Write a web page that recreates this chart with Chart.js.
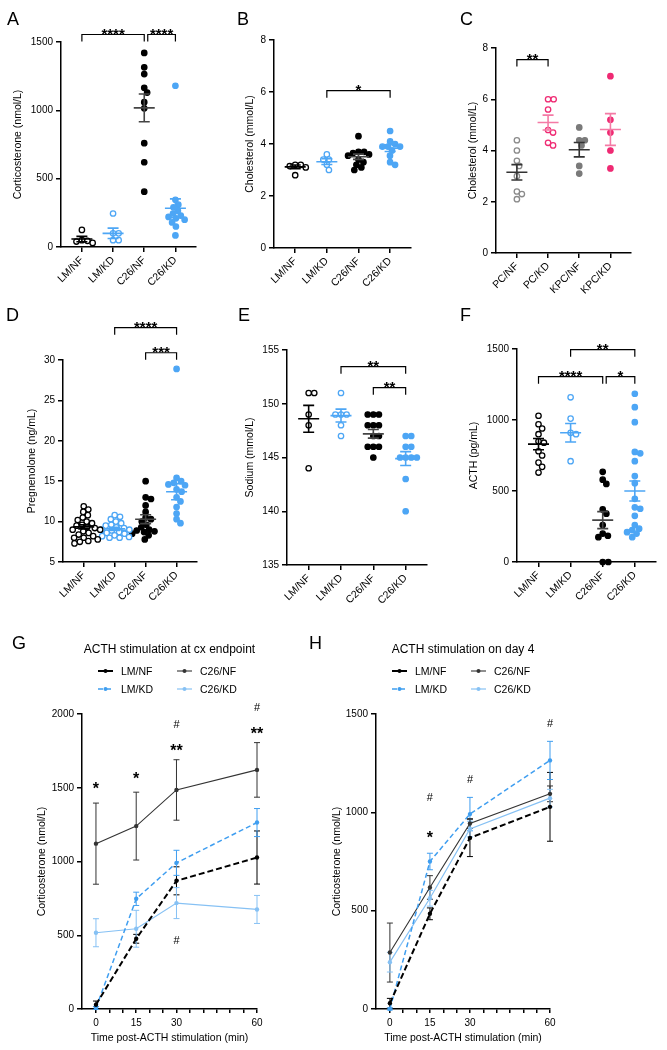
<!DOCTYPE html>
<html>
<head>
<meta charset="utf-8">
<script src="https://cdn.jsdelivr.net/npm/chart.js@4.4.1/dist/chart.umd.min.js"></script>
<style>
  body { margin: 0; background: #fff; width: 667px; height: 1050px; position: relative; overflow: hidden; }
  canvas { position: absolute; }
  .lbl { position: absolute; font: 18px "Liberation Sans", Arial, sans-serif; line-height: 18px; color: #000; }
</style>
</head>
<body>
<canvas id="cA" width="222" height="300" style="left:0;top:0"></canvas>
<canvas id="cB" width="222" height="300" style="left:222px;top:0"></canvas>
<canvas id="cC" width="223" height="300" style="left:444px;top:0"></canvas>
<canvas id="cD" width="222" height="320" style="left:0;top:290px"></canvas>
<canvas id="cE" width="222" height="320" style="left:222px;top:290px"></canvas>
<canvas id="cF" width="223" height="320" style="left:444px;top:290px"></canvas>
<canvas id="cG" width="330" height="450" style="left:0;top:600px"></canvas>
<canvas id="cH" width="337" height="450" style="left:330px;top:600px"></canvas>
<div class="lbl" style="left:7px;top:10px">A</div>
<div class="lbl" style="left:237px;top:10px">B</div>
<div class="lbl" style="left:460px;top:10px">C</div>
<div class="lbl" style="left:6px;top:306px">D</div>
<div class="lbl" style="left:238px;top:306px">E</div>
<div class="lbl" style="left:460px;top:306px">F</div>
<div class="lbl" style="left:12px;top:634px">G</div>
<div class="lbl" style="left:309px;top:634px">H</div>
<script>
// groups
const groupsLM = ['LM/NF', 'LM/KD', 'C26/NF', 'C26/KD'];
const groupsPC = ['PC/NF', 'PC/KD', 'KPC/NF', 'KPC/KD'];

// A - corticosterone (nmol/L)
const aLMNF = [125, 50, 45, 40, 30];
const aLMKD = [245, 100, 100, 50, 50];
const aC26NF = [1420, 1315, 1265, 1165, 1130, 1060, 1015, 760, 620, 405];
const aC26KD = [1180, 345, 310, 290, 265, 245, 230, 220, 210, 200, 180, 150, 85];
const aMean = [58, 100, 1018, 284];
const aSem = [20, 38, 102, 68];

// B - cholesterol (mmol/L)
const bLMNF = [3.2, 3.2, 3.15, 3.1, 2.8];
const bLMKD = [3.6, 3.4, 3.4, 3.2, 3.0];
const bC26NF = [4.3, 3.7, 3.7, 3.65, 3.6, 3.55, 3.4, 3.3, 3.2, 3.1, 3.0];
const bC26KD = [4.5, 4.1, 4.0, 3.9, 3.9, 3.9, 3.75, 3.55, 3.3, 3.2];
const bMean = [3.12, 3.32, 3.51, 3.84];
const bSem = [0.07, 0.11, 0.1, 0.13];

// C - cholesterol (mmol/L), PC / KPC
const cPCNF = [4.4, 4.0, 3.6, 3.4, 3.0, 2.4, 2.3, 2.1];
const cPCKD = [6.0, 6.0, 5.6, 4.8, 4.7, 4.3, 4.2];
const cKPCNF = [4.9, 4.4, 4.4, 4.2, 3.4, 3.1];
const cKPCKD = [6.9, 5.2, 4.7, 4.0, 3.3];
const cMean = [3.15, 5.09, 4.03, 4.82];
const cSem = [0.3, 0.29, 0.28, 0.62];

// D - pregnenolone (ng/mL)
const dLMNF = [11.9, 11.5, 11.2, 10.8, 10.5, 10.2, 10.0, 9.8, 9.6, 9.5, 9.3, 9.2, 9.0, 9.0, 8.8, 8.6, 8.4, 8.2, 8.0, 8.0, 7.8, 7.6, 7.5, 7.3];
const dLMKD = [10.8, 10.6, 10.3, 10.0, 9.8, 9.6, 9.5, 9.3, 9.2, 9.0, 9.0, 8.9, 8.7, 8.6, 8.5, 8.3, 8.2, 8.1, 8.0, 8.0];
const dC26NF = [15.0, 13.0, 12.8, 12.0, 11.2, 10.5, 10.3, 10.0, 9.6, 9.3, 9.0, 8.9, 8.8, 8.7, 8.5, 8.3, 7.8];
const dC26KD = [28.9, 15.4, 15.0, 14.8, 14.6, 14.5, 14.0, 13.7, 13.0, 12.5, 11.8, 11.0, 10.3, 9.8];
const dMean = [9.35, 9.1, 10.3, 13.7];
const dSem = [0.25, 0.2, 0.55, 1.0];

// E - sodium (mmol/L)
const eLMNF = [151, 151, 149, 148, 144];
const eLMKD = [151, 149, 149, 149, 148, 147];
const eC26NF = [149, 149, 149, 148, 148, 148, 147, 147, 146, 146, 146, 145];
const eC26KD = [147, 147, 146, 146, 145, 145, 145, 145, 143, 140];
const eMean = [148.6, 148.9, 147.2, 144.9];
const eSem = [1.25, 0.6, 0.4, 0.65];

// F - ACTH (pg/mL)
const fLMNF = [1030, 970, 940, 900, 850, 840, 780, 750, 700, 670, 630];
const fLMKD = [1160, 1010, 910, 900, 710];
const fC26NF = [635, 580, 550, 370, 340, 260, 200, 185, 175, 0, 0];
const fC26KD = [1185, 1090, 985, 775, 765, 710, 605, 555, 445, 385, 375, 325, 260, 235, 225, 210, 200, 175];
const fMean = [830, 910, 295, 500];
const fSem = [40, 65, 60, 70];

// significance brackets: [from group, to group, level, text]
const aSig = [[1, 3, 1555, '****'], [3, 4, 1555, '****']];
const bSig = [[2, 4, 6.05, '*']];
const cSig = [[1, 2, 7.55, '**']];
const dSig = [[2, 4, 34.0, '****'], [3, 4, 30.9, '***']];
const eSig = [[2, 4, 153.45, '**'], [3, 4, 151.5, '**']];
const fSig = [[2, 4, 1495, '**'], [1, 3, 1305, '****'], [3, 4, 1305, '*']];

// G / H - ACTH stimulation time course
const timePoints = [0, 15, 30, 60];
const timeTickLabels = [0, 15, 30, 60];
const seriesNames = ['LM/NF', 'LM/KD', 'C26/NF', 'C26/KD'];

const gLMNF = [29, 476, 869, 1027],  gLMNFsem = [25, 30, 95, 180];
const gLMKD = [7, 747, 991, 1264],   gLMKDsem = [10, 45, 85, 95];
const gC26NF = [1121, 1240, 1485, 1621], gC26NFsem = [275, 230, 205, 185];
const gC26KD = [517, 544, 718, 675], gC26KDsem = [95, 125, 105, 95];
const gMarks = [['*', 0, 1520], ['*', 15, 1590], ['**', 30, 1780], ['#', 30, 1935], ['**', 60, 1895], ['#', 60, 2045], ['#', 30, 465]];

const hLMNF = [29, 484, 870, 1028],  hLMNFsem = [25, 30, 95, 175];
const hLMKD = [0, 750, 991, 1264],   hLMKDsem = [5, 42, 85, 97];
const hC26NF = [287, 618, 943, 1094], hC26NFsem = [150, 60, 25, 40];
const hC26KD = [238, 563, 915, 1072], hC26KDsem = [50, 40, 40, 45];
const hMarks = [['#', 15, 1076], ['*', 15, 889], ['#', 30, 1169], ['#', 60, 1454]];

const FONT = '"Liberation Sans", Arial, sans-serif';
Chart.defaults.font.family = FONT;
Chart.defaults.color = '#000';

const BLUE = '#4da6f5';
const PINK = '#ef2a73';
const plain = v => String(v);

// spread points of a group sideways (beeswarm), allowing a little overlap
const swarm = {
  id: 'swarm',
  afterDatasetsUpdate(chart) {
    chart.data.datasets.forEach((ds, di) => {
      const pts = chart.getDatasetMeta(di).data;
      const d = 5.6;
      const placed = [];
      const order = pts.map((p, i) => i).sort((a, b) => pts[a].y - pts[b].y);
      order.forEach(i => {
        const p = pts[i];
        const cands = [0];
        placed.forEach(q => {
          const dy = Math.abs(q.y - p.y);
          if (dy < d) {
            const dx = Math.sqrt(d * d - dy * dy);
            cands.push(q.dx + dx, q.dx - dx);
          }
        });
        cands.sort((a, b) => Math.abs(a) - Math.abs(b));
        const dx = cands.find(c => placed.every(q => (q.dx - c) ** 2 + (q.y - p.y) ** 2 >= d * d - 0.01)) || 0;
        placed.push({ dx, y: p.y });
        p.x += dx;
      });
    });
  }
};

const meanSem = {
  id: 'meanSem',
  afterDatasetsDraw(chart, args, o) {
    const { ctx, scales: { x, y } } = chart;
    ctx.save();
    ctx.lineWidth = 1.6;
    o.mean.forEach((m, i) => {
      const cx = x.getPixelForValue(i + 1);
      const ym = y.getPixelForValue(m);
      const y1 = y.getPixelForValue(m + o.sem[i]);
      const y2 = y.getPixelForValue(m - o.sem[i]);
      ctx.strokeStyle = o.colors[i];
      ctx.beginPath();
      ctx.moveTo(cx - 10.5, ym); ctx.lineTo(cx + 10.5, ym);
      ctx.moveTo(cx, y1); ctx.lineTo(cx, y2);
      ctx.moveTo(cx - 5.5, y1); ctx.lineTo(cx + 5.5, y1);
      ctx.moveTo(cx - 5.5, y2); ctx.lineTo(cx + 5.5, y2);
      ctx.stroke();
    });
    ctx.restore();
  }
};

const brackets = {
  id: 'brackets',
  afterDraw(chart, args, o) {
    const { ctx, scales: { x, y } } = chart;
    ctx.save();
    ctx.strokeStyle = '#000';
    ctx.fillStyle = '#000';
    ctx.lineWidth = 1.2;
    ctx.font = 'bold 15px ' + FONT;
    ctx.textAlign = 'center';
    ctx.textBaseline = 'alphabetic';
    o.list.forEach(([a, b, level, text]) => {
      let xa = x.getPixelForValue(a);
      const xb = x.getPixelForValue(b);
      if (o.list.some(s => s[2] === level && s[1] === a)) xa += 3.5;
      const yy = y.getPixelForValue(level);
      ctx.beginPath();
      ctx.moveTo(xa, yy + 7); ctx.lineTo(xa, yy); ctx.lineTo(xb, yy); ctx.lineTo(xb, yy + 7);
      ctx.stroke();
      ctx.fillText(text, (xa + xb) / 2, yy - 2 + 0.42 * 15);
    });
    ctx.restore();
  }
};

const axisGrid = { drawOnChartArea: false, drawTicks: true, tickLength: 5, color: '#000', lineWidth: 1.5 };
const axisBorder = { color: '#000', width: 1.5 };

function dotPanel(id, o) {
  const cv = document.getElementById(id);
  const W = cv.width, H = cv.height;
  const datasets = o.values.map((vals, i) => ({
    label: o.groups[i],
    data: vals.map(v => ({ x: i + 1, y: v })),
    pointRadius: 2.7,
    pointBorderWidth: 1.3,
    pointBackgroundColor: o.open[i] ? '#fff' : o.colors[i],
    pointBorderColor: o.colors[i],
    showLine: false,
    clip: false
  }));
  return new Chart(cv, {
    type: 'scatter',
    data: { datasets },
    options: {
      responsive: false,
      animation: false,
      layout: { padding: { left: 0, top: o.area[2], right: W - o.area[1], bottom: 0 } },
      plugins: {
        legend: { display: false },
        tooltip: { enabled: false },
        meanSem: { mean: o.mean, sem: o.sem, colors: o.barColors },
        brackets: { list: o.sig }
      },
      scales: {
        x: {
          type: 'linear', min: 0.33, max: 4.66,
          afterBuildTicks: s => { s.ticks = o.groups.map((g, i) => ({ value: i + 1 })); },
          afterFit: s => { s.height = H - o.area[3]; },
          ticks: { callback: v => o.groups[v - 1], minRotation: 45, maxRotation: 45, autoSkip: false, font: { size: 10.5 }, padding: 2 },
          grid: axisGrid, border: axisBorder
        },
        y: {
          min: o.range[0], max: o.range[1],
          afterFit: s => { s.width = o.area[0]; },
          ticks: { stepSize: o.range[2], callback: plain, font: { size: 10 }, padding: 3 },
          title: { display: true, text: o.title, font: { size: 10.5 }, padding: { top: o.titleX - 6.3, bottom: 0 } },
          grid: axisGrid, border: axisBorder
        }
      }
    },
    plugins: [swarm, meanSem, brackets]
  });
}

const openLM = [true, true, false, false];
const colLM = ['#000', BLUE, '#000', BLUE];
const barLM = ['#000', BLUE, '#444', BLUE];

dotPanel('cA', { groups: groupsLM, values: [aLMNF, aLMKD, aC26NF, aC26KD], mean: aMean, sem: aSem, sig: aSig,
  open: openLM, colors: colLM, barColors: barLM, area: [61, 196, 42, 247], range: [0, 1500, 500], title: 'Corticosterone (nmol/L)', titleX: 18 });
dotPanel('cB', { groups: groupsLM, values: [bLMNF, bLMKD, bC26NF, bC26KD], mean: bMean, sem: bSem, sig: bSig,
  open: openLM, colors: colLM, barColors: barLM, area: [52, 189, 40, 248], range: [0, 8, 2], title: 'Cholesterol (mmol/L)', titleX: 28 });
dotPanel('cC', { groups: groupsPC, values: [cPCNF, cPCKD, cKPCNF, cKPCKD], mean: cMean, sem: cSem, sig: cSig,
  open: openLM, colors: ['#8a8a8a', PINK, '#7a7a7a', PINK], barColors: ['#333', '#f47aa5', '#333', '#f47aa5'], area: [52, 187, 48, 253], range: [0, 8, 2], title: 'Cholesterol (mmol/L)', titleX: 29 });
dotPanel('cD', { groups: groupsLM, values: [dLMNF, dLMKD, dC26NF, dC26KD], mean: dMean, sem: dSem, sig: dSig,
  open: openLM, colors: colLM, barColors: barLM, area: [63, 197, 70, 272], range: [5, 30, 5], title: 'Pregnenolone (ng/mL)', titleX: 32 });
dotPanel('cE', { groups: groupsLM, values: [eLMNF, eLMKD, eC26NF, eC26KD], mean: eMean, sem: eSem, sig: eSig,
  open: openLM, colors: colLM, barColors: barLM, area: [65, 205, 60, 275], range: [135, 155, 5], title: 'Sodium (mmol/L)', titleX: 28 });
dotPanel('cF', { groups: groupsLM, values: [fLMNF, fLMKD, fC26NF, fC26KD], mean: fMean, sem: fSem, sig: fSig,
  open: openLM, colors: colLM, barColors: barLM, area: [73, 212, 59, 272], range: [0, 1500, 500], title: 'ACTH (pg/mL)', titleX: 30 });

// error bars, annotations, title and legend for the time-course panels
const errorBars = {
  id: 'errorBars',
  beforeDatasetsDraw(chart) {
    const { ctx, scales: { y } } = chart;
    ctx.save();
    ctx.lineWidth = 1;
    chart.data.datasets.forEach((ds, di) => {
      const pts = chart.getDatasetMeta(di).data;
      ctx.strokeStyle = ds.borderColor;
      pts.forEach((p, j) => {
        const m = ds.data[j].y, s = ds.sem[j];
        const y1 = y.getPixelForValue(m + s), y2 = y.getPixelForValue(m - s);
        ctx.beginPath();
        ctx.moveTo(p.x, y1); ctx.lineTo(p.x, y2);
        ctx.moveTo(p.x - 3, y1); ctx.lineTo(p.x + 3, y1);
        ctx.moveTo(p.x - 3, y2); ctx.lineTo(p.x + 3, y2);
        ctx.stroke();
      });
    });
    ctx.restore();
  }
};

const decor = {
  id: 'decor',
  afterDraw(chart, args, o) {
    const { ctx, chartArea: ca, scales: { x, y } } = chart;
    ctx.save();
    ctx.fillStyle = '#000';
    ctx.textAlign = 'center';
    ctx.textBaseline = 'alphabetic';
    ctx.font = '12px ' + FONT;
    ctx.fillText(o.title, (ca.left + ca.right) / 2, ca.top - 61);
    // marks
    o.marks.forEach(([t, tx, ty]) => {
      const px = x.getPixelForValue(tx), py = y.getPixelForValue(ty);
      if (t === '#') {
        ctx.font = '11px ' + FONT;
        ctx.fillText(t, px, py + 0.36 * 11);
      } else {
        ctx.font = 'bold 16px ' + FONT;
        ctx.fillText(t, px, py + 0.58 * 16);
      }
    });
    // legend
    ctx.textAlign = 'left';
    ctx.font = '10.5px ' + FONT;
    chart.data.datasets.forEach((ds, i) => {
      const col = Math.floor(i / 2), row = i % 2;
      const sx = ca.left + 16 + col * 79;
      const sy = ca.top - 43 + row * 18;
      ctx.strokeStyle = ds.borderColor;
      ctx.lineWidth = ds.borderWidth;
      ctx.setLineDash(ds.borderDash);
      ctx.beginPath(); ctx.moveTo(sx, sy); ctx.lineTo(sx + 15, sy); ctx.stroke();
      ctx.setLineDash([]);
      ctx.fillStyle = ds.borderColor;
      ctx.beginPath(); ctx.arc(sx + 7.5, sy, 2, 0, Math.PI * 2); ctx.fill();
      ctx.fillStyle = '#000';
      ctx.fillText(ds.label, sx + 23, sy + 3.8);
    });
    ctx.restore();
  }
};

const lineStyles = [
  { color: '#000', dash: [6, 3], width: 2 },
  { color: '#3f9ef0', dash: [5, 3], width: 1.5 },
  { color: '#333', dash: [], width: 1.1 },
  { color: '#86c1f4', dash: [], width: 1.2 }
];

function timePanel(id, o) {
  const cv = document.getElementById(id);
  const W = cv.width, H = cv.height;
  const datasets = o.means.map((m, i) => ({
    label: seriesNames[i],
    data: timePoints.map((t, j) => ({ x: t, y: m[j] })),
    sem: o.sems[i],
    borderColor: lineStyles[i].color,
    backgroundColor: lineStyles[i].color,
    pointBackgroundColor: lineStyles[i].color,
    pointBorderColor: lineStyles[i].color,
    borderDash: lineStyles[i].dash,
    borderWidth: lineStyles[i].width,
    pointRadius: 2.2,
    pointBorderWidth: 0,
    tension: 0,
    fill: false,
    clip: false
  }));
  return new Chart(cv, {
    type: 'line',
    data: { datasets },
    options: {
      responsive: false,
      animation: false,
      layout: { padding: { left: 0, top: o.area[2], right: W - o.area[1], bottom: 0 } },
      plugins: {
        legend: { display: false },
        tooltip: { enabled: false },
        decor: { title: o.title, marks: o.marks }
      },
      scales: {
        x: {
          type: 'linear', min: -5.2, max: 60,
          afterBuildTicks: s => { const t = []; for (let v = 0; v <= 60; v += 5) t.push({ value: v }); s.ticks = t; },
          afterFit: s => { s.height = H - o.area[3]; },
          ticks: { callback: v => timeTickLabels.includes(v) ? String(v) : '', autoSkip: false, maxRotation: 0, font: { size: 10 }, padding: 4 },
          title: { display: true, text: 'Time post-ACTH stimulation (min)', font: { size: 10.5 }, padding: { top: 0, bottom: 5.7 } },
          grid: { ...axisGrid, tickLength: 4 }, border: axisBorder
        },
        y: {
          min: 0, max: o.yMax,
          afterFit: s => { s.width = o.area[0]; },
          ticks: { stepSize: 500, callback: plain, font: { size: 10 }, padding: 3 },
          title: { display: true, text: 'Corticosterone (nmol/L)', font: { size: 10.5 }, padding: { top: o.titleX - 6.3, bottom: 0 } },
          grid: axisGrid, border: axisBorder
        }
      }
    },
    plugins: [errorBars, decor]
  });
}

timePanel('cG', { means: [gLMNF, gLMKD, gC26NF, gC26KD], sems: [gLMNFsem, gLMKDsem, gC26NFsem, gC26KDsem], marks: gMarks,
  title: 'ACTH stimulation at cx endpoint', area: [82, 257, 114, 409], yMax: 2000, titleX: 42 });
timePanel('cH', { means: [hLMNF, hLMKD, hC26NF, hC26KD], sems: [hLMNFsem, hLMKDsem, hC26NFsem, hC26KDsem], marks: hMarks,
  title: 'ACTH stimulation on day 4', area: [46, 220, 114, 409], yMax: 1500, titleX: 7 });
</script>
</body>
</html>
